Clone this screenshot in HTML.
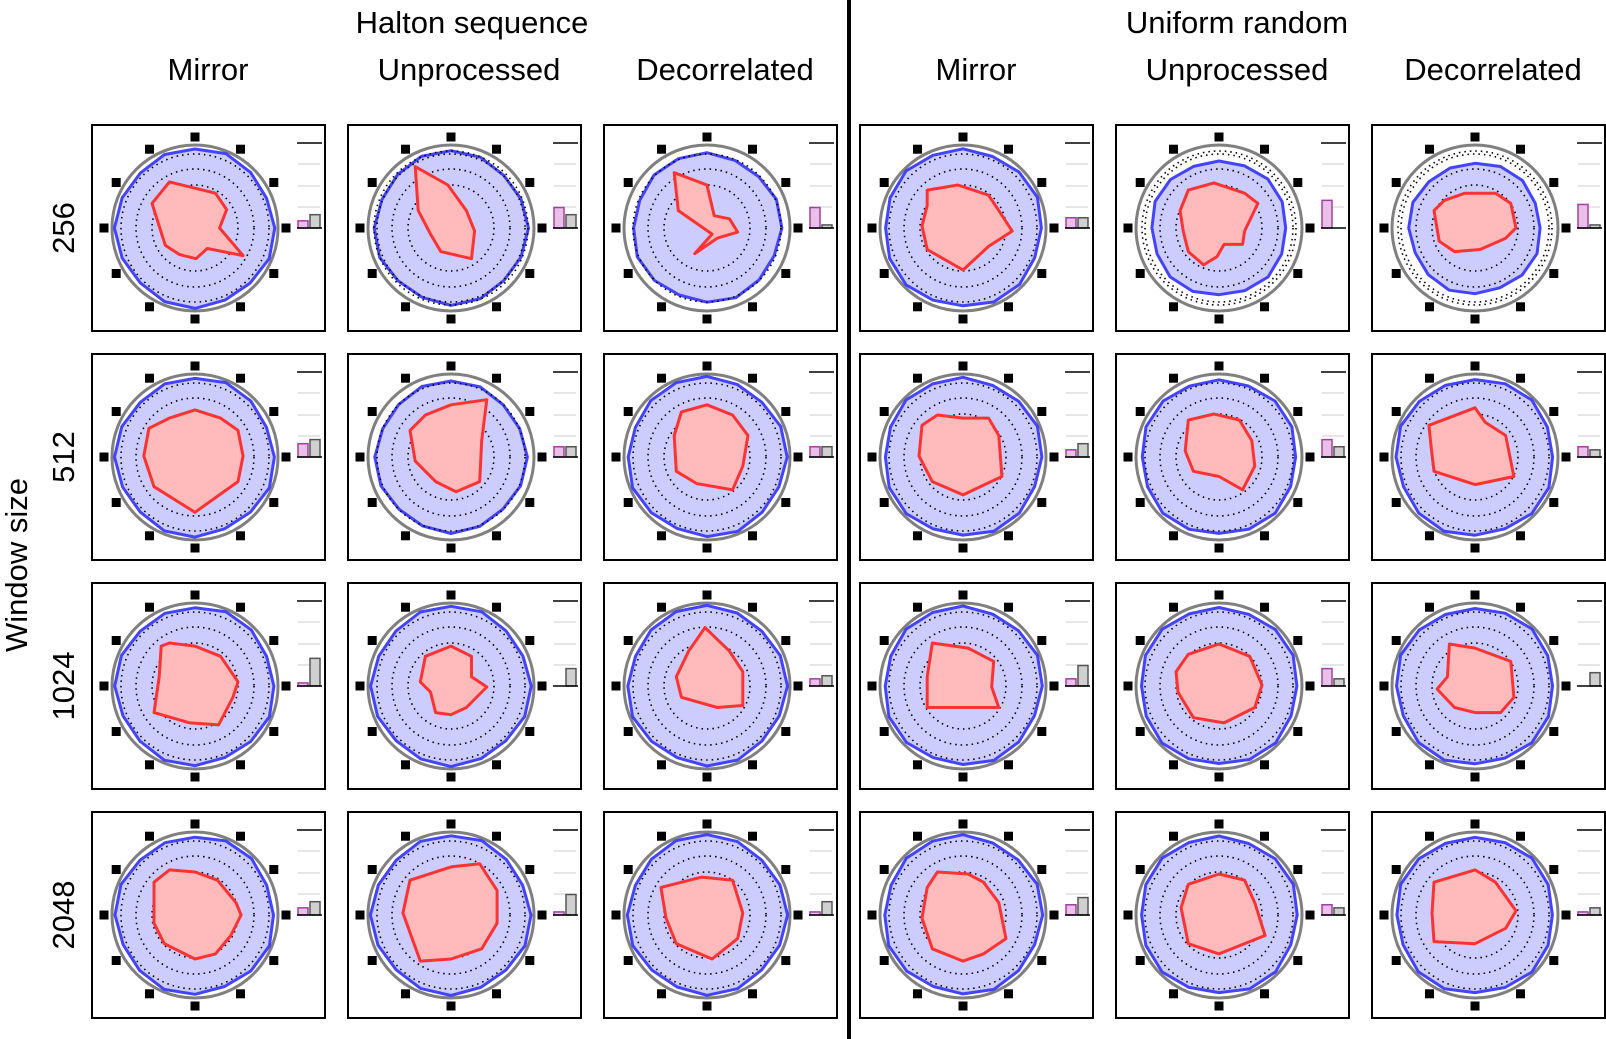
<!DOCTYPE html>
<html><head><meta charset="utf-8"><style>
html,body{margin:0;padding:0;background:#fff;}
svg{display:block;}
text{font-family:"Liberation Sans",sans-serif;fill:#000;}
</style></head><body>
<svg id="s" width="1606" height="1039" viewBox="0 0 1606 1039" xmlns="http://www.w3.org/2000/svg">
<g font-size="31">
<text x="472" y="33" text-anchor="middle">Halton sequence</text>
<text x="1237" y="33" text-anchor="middle">Uniform random</text>
<text x="208" y="80" text-anchor="middle">Mirror</text>
<text x="469" y="80" text-anchor="middle">Unprocessed</text>
<text x="725" y="80" text-anchor="middle">Decorrelated</text>
<text x="976" y="80" text-anchor="middle">Mirror</text>
<text x="1237" y="80" text-anchor="middle">Unprocessed</text>
<text x="1493" y="80" text-anchor="middle">Decorrelated</text>
<text transform="translate(27,565) rotate(-90)" text-anchor="middle">Window size</text>
<text transform="translate(74,228) rotate(-90)" text-anchor="middle">256</text>
<text transform="translate(74,457) rotate(-90)" text-anchor="middle">512</text>
<text transform="translate(74,686) rotate(-90)" text-anchor="middle">1024</text>
<text transform="translate(74,915) rotate(-90)" text-anchor="middle">2048</text>
</g>
<rect x="847" y="0" width="4" height="1039" fill="#000"/>
<g id="g"></g>
</svg>
<script>
var R=[
[[-25,-45],[20,-34],[31,-18],[24,0],[47,27],[12,20],[1,30],[-15,26],[-29,17],[-42,-24]],
[[-35,-60],[-3,-42],[15,-17],[23,3],[20,30],[-10,23],[-20,6],[-32,-17]],
[[-32,-54],[0,-42],[7,-12],[22,-9],[30,4],[10,10],[-12,25],[5,6],[-28,-17]],
[[-35,-37],[-5,-42],[25,-32],[35,-17],[48,3],[25,18],[0,41],[-35,21],[-40,-2],[-35,-22]],
[[-30,-37],[-5,-44],[25,-34],[38,-24],[25,3],[23,16],[5,16],[-2,28],[-15,36],[-30,23],[-35,3],[-38,-17]],
[[-30,-27],[-10,-34],[20,-34],[35,-24],[40,0],[30,10],[5,21],[-20,23],[-35,13],[-40,-17]],
[[-25,-38],[0,-46],[25,-38],[42,-26],[47,-1],[42,24],[0,54],[-40,29],[-50,-1],[-45,-28]],
[[-25,-41],[0,-51],[35,-56],[30,-16],[28,24],[5,34],[-15,24],[-35,4],[-40,-26]],
[[-25,-44],[0,-51],[25,-41],[40,-21],[35,9],[25,32],[-10,26],[-30,14],[-32,-21]],
[[-40,-31],[-25,-41],[0,-38],[25,-38],[35,-21],[38,19],[0,37],[-30,24],[-43,-1]],
[[-30,-36],[-5,-42],[20,-36],[32,-16],[35,9],[23,32],[0,19],[-25,14],[-33,-6]],
[[-45,-31],[0,-48],[10,-34],[30,-21],[38,19],[0,27],[-40,14],[-43,-11]],
[[-25,-42],[0,-39],[25,-29],[42,-4],[37,11],[23,38],[-5,36],[-40,26],[-35,-9],[-33,-39]],
[[-25,-29],[0,-39],[20,-29],[20,-9],[35,1],[15,21],[0,28],[-15,26],[-20,6],[-30,-4]],
[[-2,-57],[22,-34],[35,-14],[35,19],[10,21],[-25,11],[-30,-9],[-18,-34]],
[[-30,-42],[5,-37],[30,-24],[28,1],[35,21],[0,21],[-35,21],[-35,-9]],
[[-30,-31],[0,-41],[30,-29],[42,-1],[35,21],[5,36],[-25,31],[-40,6],[-42,-14]],
[[-25,-41],[0,-37],[35,-24],[38,11],[25,26],[0,26],[-20,21],[-37,3],[-27,-9]],
[[-25,-44],[0,-42],[22,-34],[40,-12],[45,0],[35,20],[20,38],[0,43],[-30,28],[-40,8],[-40,-32]],
[[-40,-34],[0,-47],[28,-50],[45,-24],[45,8],[30,33],[0,43],[-30,45],[-47,-2]],
[[-45,-27],[-5,-37],[25,-34],[35,-2],[30,23],[5,43],[-30,28],[-40,3]],
[[-25,-42],[5,-40],[20,-32],[35,-12],[42,23],[20,38],[0,45],[-30,33],[-40,3],[-35,-27]],
[[-30,-30],[0,-40],[25,-34],[35,-12],[45,20],[0,38],[-30,28],[-37,-7]],
[[-40,-32],[0,-44],[20,-32],[40,-4],[30,13],[0,28],[-40,26],[-42,-2]]];
var B=[[7,13],[20,13],[20,3],[10,10],[27,0],[23,3],[13,17],[10,10],[10,10],[7,13],[17,10],[10,7],[3,27],[0,17],[7,10],[7,20],[17,7],[0,13],[7,13],[3,20],[3,13],[10,17],[10,7],[3,7]];
var BR=[79,76,74,79,68,66,79,75,79,79,78,79,79,79,79,79,79,79,79,79,79,79,79,79];
var h='';
for(var r=0;r<4;r++)for(var c=0;c<6;c++){
 var i=r*6+c,x=92+256*c,y=125+229*r,cx=x+103,cy=y+103;
 h+='<rect x="'+x+'" y="'+y+'" width="233" height="206" fill="#fff" stroke="#000" stroke-width="2"/>';
 h+='<circle cx="'+cx+'" cy="'+cy+'" r="83" fill="none" stroke="#808080" stroke-width="3"/>';
 var p=[];for(var k=0;k<16;k++){var a=k*Math.PI/8,rr=BR[i]*(1+0.02*Math.sin(k*1.7+i));p.push((cx+rr*Math.sin(a)).toFixed(1)+','+(cy-rr*Math.cos(a)).toFixed(1));}
 h+='<polygon points="'+p.join(' ')+'" fill="#ccccff" stroke="#4444ff" stroke-width="3" stroke-linejoin="round"/>';
 [74,59,43].forEach(function(q){h+='<circle cx="'+cx+'" cy="'+cy+'" r="'+q+'" fill="none" stroke="#000" stroke-width="1.6" stroke-dasharray="1.5 4"/>';});
 if(i==1||i==4||i==5){h+='<circle cx="'+cx+'" cy="'+cy+'" r="77" fill="none" stroke="#000" stroke-width="1.6" stroke-dasharray="1.5 4"/>';}
 var q=R[i].map(function(v){return (cx+v[0]*1.024).toFixed(1)+','+(cy+v[1]*1.024).toFixed(1);});
 h+='<polygon points="'+q.join(' ')+'" fill="#ffbbbb" stroke="#ff3333" stroke-width="3" stroke-linejoin="round"/>';
 for(var k=0;k<12;k++){var a=k*Math.PI/6;h+='<rect x="'+(cx+91*Math.sin(a)-4.5).toFixed(1)+'" y="'+(cy-91*Math.cos(a)-4.5).toFixed(1)+'" width="9" height="9" fill="#000"/>';}
 var lx=x+205;
 h+='<line x1="'+lx+'" y1="'+(y+18)+'" x2="'+(lx+25)+'" y2="'+(y+18)+'" stroke="#000" stroke-width="1.5"/>';
 [39,61,82].forEach(function(d){h+='<line x1="'+(lx+1)+'" y1="'+(y+d)+'" x2="'+(lx+23)+'" y2="'+(y+d)+'" stroke="#ccc" stroke-width="1"/>';});
 var b1=B[i][0]*1.024,b2=B[i][1]*1.024;
 if(b1>1)h+='<rect x="'+(lx+1)+'" y="'+(cy-b1)+'" width="10" height="'+b1+'" fill="#e8c0e8" stroke="#a040a0" stroke-width="1.5"/>';
 if(b2>1)h+='<rect x="'+(lx+13)+'" y="'+(cy-b2)+'" width="10" height="'+b2+'" fill="#d0d0d0" stroke="#555" stroke-width="1.5"/>';
 h+='<line x1="'+lx+'" y1="'+cy+'" x2="'+(lx+25)+'" y2="'+cy+'" stroke="#000" stroke-width="1.5"/>';
}
document.getElementById('g').innerHTML=h;
</script>
</body></html>
